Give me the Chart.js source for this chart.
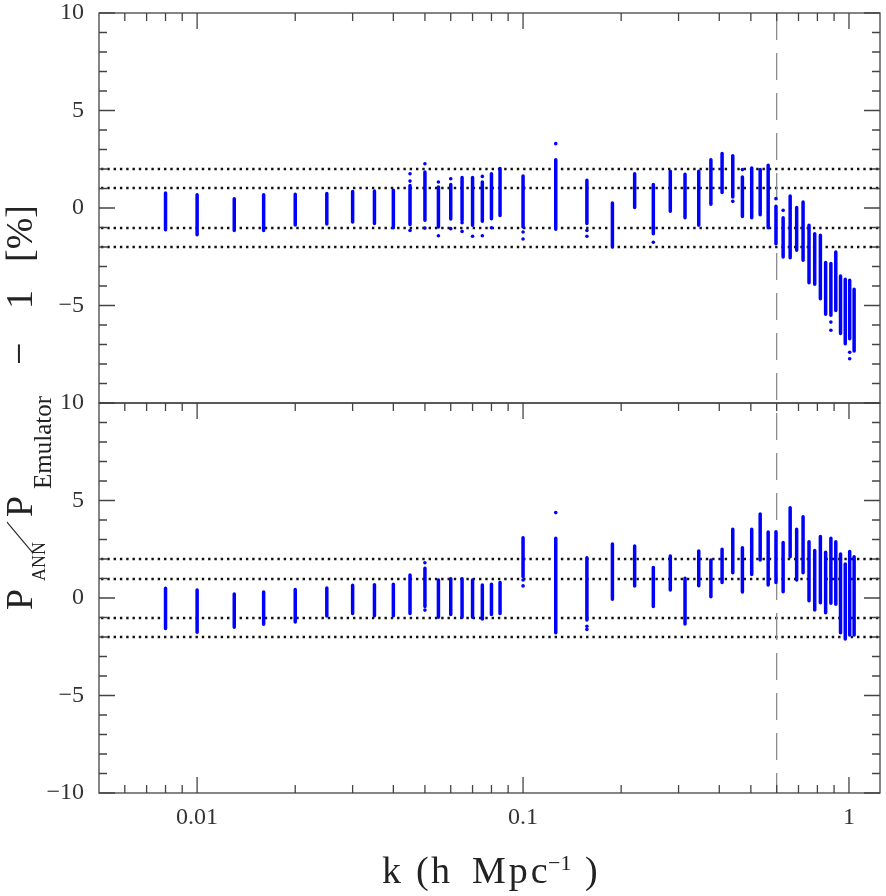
<!DOCTYPE html>
<html>
<head>
<meta charset="utf-8">
<script src="https://cdn.jsdelivr.net/npm/chart.js@4.4.1/dist/chart.umd.min.js"></script>
<style>
  html, body { margin: 0; padding: 0; background: #fff; }
  #wrap { width: 886px; height: 896px; }
</style>
</head>
<body>
<div id="wrap"><canvas id="chart" width="886" height="896"></canvas></div>
<script>
// k bins (h/Mpc)
const kValues = [0.008, 0.010, 0.013, 0.016, 0.020, 0.025, 0.030, 0.035, 0.040, 0.045,
                 0.050, 0.055, 0.060, 0.065, 0.070, 0.075, 0.080, 0.085, 0.100,
                 0.126, 0.157, 0.188, 0.220, 0.251, 0.283, 0.314, 0.346, 0.377, 0.408,
                 0.440, 0.471, 0.503, 0.534, 0.565, 0.597, 0.628, 0.660, 0.691, 0.723,
                 0.754, 0.785, 0.817, 0.848, 0.880, 0.911, 0.942, 0.974, 1.005, 1.037];

// top panel: spread of the residuals in each bin (%)
const topMax = [0.77, 0.68, 0.48, 0.68, 0.70, 0.75, 0.85, 0.87, 0.91, 1.16,
                1.85, 1.08, 1.20, 1.56, 1.56, 1.33, 1.76, 2.02, 1.64,
                2.48, 1.42, 0.26, 1.76, 1.21, 1.88, 1.73, 1.88, 2.48, 2.80,
                2.68, 1.59, 2.05, 1.97, 2.19, 0.09, -0.50, 0.62, 0.02, 0.31,
                -0.89, -1.32, -1.40, -2.80, -2.85, -2.26, -3.49, -3.66, -3.71, -4.17];
const topMin = [-1.11, -1.37, -1.15, -1.15, -0.87, -0.82, -0.72, -0.80, -1.01, -0.84,
                -0.63, -0.97, -0.56, -0.63, -0.89, -0.68, -0.55, -0.38, -0.97,
                -1.09, -0.80, -2.00, 0.02, -1.32, -0.17, -0.50, -0.89, 0.19, 0.79,
                0.56, -0.43, -0.50, -0.34, -1.01, -1.83, -2.51, -2.55, -2.17, -2.68,
                -3.83, -3.91, -4.65, -5.45, -5.50, -5.25, -6.44, -6.96, -6.70, -7.33];
const topOutliers = [[0.045, 1.76], [0.045, 1.38], [0.045, -1.15], [0.050, 2.27], [0.050, -1.03],
                     [0.055, 1.33], [0.055, -1.42], [0.060, 1.50], [0.060, -1.06], [0.065, -0.75],
                     [0.065, -1.20], [0.070, -1.45], [0.075, 1.62], [0.075, -1.42], [0.080, -1.01],
                     [0.100, -1.23], [0.100, -1.59], [0.126, 3.30], [0.157, -1.15], [0.157, -1.45],
                     [0.251, -1.76], [0.440, 0.34], [0.471, 1.97], [0.597, 0.48], [0.628, -0.12],
                     [0.880, -5.85], [0.880, -6.27], [1.005, -7.40], [1.005, -7.73]];

// bottom panel
const botMax = [0.50, 0.41, 0.21, 0.31, 0.44, 0.51, 0.65, 0.68, 0.70, 1.18,
                1.52, 0.92, 0.99, 0.99, 0.92, 0.67, 0.70, 0.80, 3.09,
                3.06, 2.07, 2.77, 2.67, 1.57, 2.15, 1.01, 2.41, 1.95, 2.50,
                3.52, 2.58, 3.52, 4.31, 3.38, 3.40, 2.84, 4.63, 3.52, 4.17,
                2.89, 2.43, 3.15, 2.34, 3.06, 2.89, 2.26, 1.74, 2.38, 2.12];
const botMin = [-1.56, -1.76, -1.50, -1.35, -1.23, -0.92, -0.79, -0.91, -0.91, -0.80,
                -0.44, -0.99, -0.85, -0.99, -0.99, -1.08, -0.85, -0.79, 1.09,
                -1.78, -1.13, -0.07, 0.62, -0.44, 0.41, -1.33, 0.63, 0.07, 0.79,
                1.30, 0.31, 1.21, 1.95, 0.67, 0.79, 0.32, 2.12, 0.92, 1.30,
                -0.14, -0.62, -0.24, -0.75, -0.27, -0.32, -1.78, -2.10, -1.90, -1.90];
const botOutliers = [[0.050, 1.81], [0.050, -0.62], [0.100, 0.92], [0.100, 0.62],
                     [0.126, 4.38], [0.157, -1.45], [0.157, -1.61]];

const refLevels = [-2, -1, 1, 2];
const kCut = 0.6;
const xLabelTicks = [0.01, 0.1, 1];
const xMinorTicks = [0.006, 0.007, 0.008, 0.009, 0.02, 0.03, 0.04, 0.05, 0.06, 0.07, 0.08, 0.09,
                     0.2, 0.3, 0.4, 0.5, 0.6, 0.7, 0.8, 0.9];

const BLUE = '#0000ff';
const INK = '#333333';
const SERIF = '"Liberation Serif", "Times New Roman", serif';

function columns(mins, maxs) {
    const pts = [];
    kValues.forEach((k, i) => {
        pts.push({ x: k, y: mins[i] }, { x: k, y: maxs[i] }, { x: k, y: null });
    });
    return pts;
}

function minusSign(v) {
    return v < 0 ? '\u2212' + Math.abs(v) : String(v);
}

const panelDecor = {
    id: 'panelDecor',
    beforeDatasetsDraw(chart) {
        const { ctx, chartArea: a, scales } = chart;
        ctx.save();
        ctx.strokeStyle = '#111';
        ctx.lineWidth = 2.4;
        ctx.setLineDash([2.4, 3.9]);
        ['yTop', 'yBot'].forEach(id => {
            refLevels.forEach(v => {
                const py = Math.round(scales[id].getPixelForValue(v));
                ctx.beginPath();
                ctx.moveTo(a.left + 2, py);
                ctx.lineTo(a.right, py);
                ctx.stroke();
            });
        });
        ctx.setLineDash([27, 13]);
        ctx.strokeStyle = '#8c8c8c';
        ctx.lineWidth = 1.3;
        const px = scales.x.getPixelForValue(kCut);
        ctx.beginPath();
        ctx.moveTo(px, a.top);
        ctx.lineTo(px, a.bottom);
        ctx.stroke();
        ctx.restore();
    },
    afterDraw(chart) {
        const { ctx, chartArea: a, scales } = chart;
        const x = scales.x;
        ctx.save();
        ctx.strokeStyle = '#444';
        ctx.lineWidth = 1.3;
        ctx.setLineDash([]);

        ['yTop', 'yBot'].forEach(id => {
            const y = scales[id];
            ctx.strokeRect(a.left, y.top, a.right - a.left, y.bottom - y.top);
            ctx.beginPath();
            for (let v = -10; v <= 10; v++) {
                const py = y.getPixelForValue(v);
                const len = v % 5 === 0 ? 16 : 8;
                ctx.moveTo(a.left, py); ctx.lineTo(a.left + len, py);
                ctx.moveTo(a.right, py); ctx.lineTo(a.right - len, py);
            }
            // x ticks hang down from the top edge of each panel
            xLabelTicks.concat(xMinorTicks).forEach(k => {
                const px = x.getPixelForValue(k);
                const len = xLabelTicks.includes(k) ? 16 : 8;
                ctx.moveTo(px, y.top); ctx.lineTo(px, y.top + len);
                if (id === 'yBot') {
                    ctx.moveTo(px, y.bottom); ctx.lineTo(px, y.bottom - len);
                }
            });
            ctx.stroke();
        });

        // axis titles
        ctx.fillStyle = '#222';
        ctx.textBaseline = 'alphabetic';
        ctx.textAlign = 'left';
        const xTitle = [
            { t: 'k', size: 38, at: 382, dy: 0 },
            { t: '(', size: 38, at: 416, dy: 0 },
            { t: 'h', size: 38, at: 431, dy: 0 },
            { t: 'Mpc', size: 38, at: 472, dy: 0, sp: 3 },
            { t: '\u22121', size: 22, at: 548, dy: -13 },
            { t: ')', size: 38, at: 585, dy: 0 }
        ];
        xTitle.forEach(p => {
            ctx.font = p.size + 'px ' + SERIF;
            ctx.letterSpacing = (p.sp || 0) + 'px';
            ctx.fillText(p.t, p.at, 883 + p.dy);
        });
        ctx.letterSpacing = '0px';

        ctx.translate(32, 610);
        ctx.rotate(-Math.PI / 2);
        const yTitle = [
            { t: 'P', size: 38, at: 0, dy: 0 },
            { t: 'ANN', size: 18, at: 29, dy: 13 },
            { t: '/', size: 38, at: 57, dy: 0, shear: 0.85 },
            { t: 'P', size: 38, at: 93, dy: 0 },
            { t: 'Emulator', size: 25, at: 121, dy: 19 },
            { t: '\u2212', size: 40, at: 245, dy: 0 },
            { t: '1', size: 38, at: 301, dy: 0 },
            { t: '[%]', size: 38, at: 348, dy: 0 }
        ];
        yTitle.forEach(p => {
            ctx.font = p.size + 'px ' + SERIF;
            if (p.shear) {
                ctx.save();
                ctx.translate(p.at, p.dy);
                ctx.transform(1, 0, -p.shear, 1, 0, 0);
                ctx.fillText(p.t, 0, 0);
                ctx.restore();
            } else {
                ctx.fillText(p.t, p.at, p.dy);
            }
        });
        ctx.restore();
    }
};

function yScale(hideBottom, weight) {
    return {
        type: 'linear',
        position: 'left',
        stack: 'panels',
        stackWeight: 1,
        weight: weight,
        min: -10,
        max: 10,
        grid: { display: false, drawTicks: false },
        border: { display: false },
        ticks: {
            stepSize: 5,
            padding: 15,
            color: INK,
            font: { family: SERIF, size: 24 },
            callback: v => (hideBottom && v === -10) ? '' : minusSign(v)
        },
        afterFit: s => {
            s.width = 99;
            s.paddingTop = 0;
            s.paddingBottom = 0;
        }
    };
}

const ctx = document.getElementById('chart').getContext('2d');
new Chart(ctx, {
    type: 'line',
    data: {
        datasets: [
            {
                data: columns(topMin, topMax),
                yAxisID: 'yTop',
                borderColor: BLUE,
                borderWidth: 3.5,
                borderCapStyle: 'round',
                pointRadius: 0,
                spanGaps: false,
                showLine: true
            },
            {
                type: 'scatter',
                data: topOutliers.map(p => ({ x: p[0], y: p[1] })),
                yAxisID: 'yTop',
                backgroundColor: BLUE,
                borderWidth: 0,
                pointRadius: 1.8
            },
            {
                data: columns(botMin, botMax),
                yAxisID: 'yBot',
                borderColor: BLUE,
                borderWidth: 3.5,
                borderCapStyle: 'round',
                pointRadius: 0,
                spanGaps: false,
                showLine: true
            },
            {
                type: 'scatter',
                data: botOutliers.map(p => ({ x: p[0], y: p[1] })),
                yAxisID: 'yBot',
                backgroundColor: BLUE,
                borderWidth: 0,
                pointRadius: 1.8
            }
        ]
    },
    options: {
        responsive: false,
        animation: false,
        devicePixelRatio: 1,
        layout: { padding: { top: 13, right: 6, left: 0, bottom: 0 } },
        plugins: {
            legend: { display: false },
            tooltip: { enabled: false }
        },
        scales: {
            x: {
                type: 'logarithmic',
                position: 'bottom',
                min: 0.005,
                max: 1.245,
                grid: { display: false, drawTicks: false },
                border: { display: false },
                afterBuildTicks: s => { s.ticks = xLabelTicks.map(v => ({ value: v, major: true })); },
                ticks: {
                    autoSkip: false,
                    maxRotation: 0,
                    minRotation: 0,
                    padding: 10,
                    color: INK,
                    font: { family: SERIF, size: 24 },
                    callback: v => String(v)
                },
                afterFit: s => {
                    s.height = 103;
                    s.paddingLeft = 0;
                    s.paddingRight = 0;
                }
            },
            yTop: yScale(true, 1),
            yBot: yScale(false, 0)
        }
    },
    plugins: [panelDecor]
});
</script>
</body>
</html>
